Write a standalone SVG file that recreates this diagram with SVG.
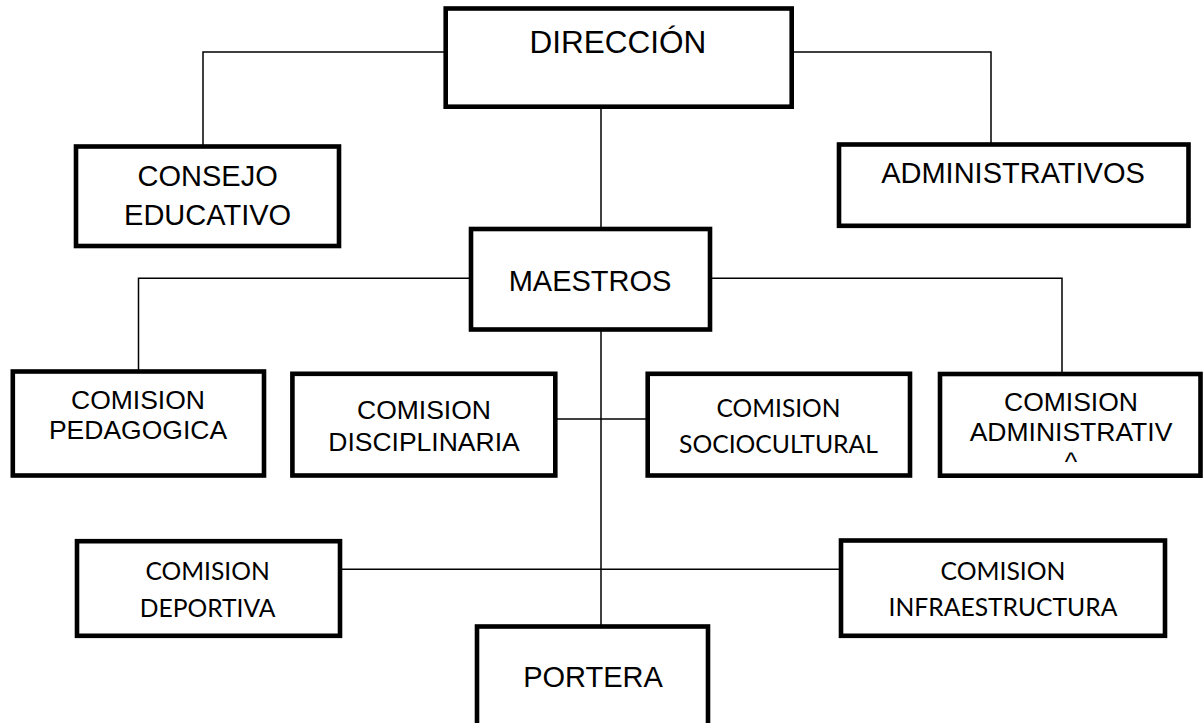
<svg xmlns="http://www.w3.org/2000/svg" width="1203" height="723" viewBox="0 0 1203 723">
<style>
.box{fill:#fff;stroke:#000;stroke-width:4.6}
.con{fill:none;stroke:#000;stroke-width:1.5}
.a{font-family:"Liberation Sans",Arial,sans-serif;fill:#000;text-anchor:middle}
.c{font-family:Lato,"Open Sans",sans-serif;fill:#000;text-anchor:middle;font-size:25.5px}
</style>
<rect width="1203" height="723" fill="#fff"/>
<g id="connectors">
<path class="con" d="M445.7 52H203V146.5"/>
<path class="con" d="M791.7 52H991V144.5"/>
<path class="con" d="M601 106.7V229"/>
<path class="con" d="M471 278.3H138.5V371.5"/>
<path class="con" d="M710 278.3H1062V374"/>
<path class="con" d="M601 329.5V626.5"/>
<path class="con" d="M555.3 419H647.7"/>
<path class="con" d="M340 569.3H841"/>
</g>
<g id="direccion">
<rect class="box" x="445.7" y="8.5" width="346" height="98.2"/>
<text class="a" x="618" y="53.3" font-size="31.5">DIRECCIÓN</text>
</g>
<g id="consejo">
<rect class="box" x="76" y="146.5" width="263" height="99.5"/>
<text class="a" x="207.6" y="185.7" font-size="29">CONSEJO</text>
<text class="a" x="207.6" y="225" font-size="29">EDUCATIVO</text>
</g>
<g id="administrativos">
<rect class="box" x="839" y="144.5" width="349.5" height="81.3"/>
<text class="a" x="1013" y="183.3" font-size="29">ADMINISTRATIVOS</text>
</g>
<g id="maestros">
<rect class="box" x="471" y="229" width="239" height="100.5"/>
<text class="a" x="590" y="291" font-size="29">MAESTROS</text>
</g>
<g id="pedagogica">
<rect class="box" x="12.8" y="371.5" width="251.2" height="104"/>
<text class="a" x="138" y="409" font-size="26.5">COMISION</text>
<text class="a" x="138" y="439" font-size="26.5">PEDAGOGICA</text>
</g>
<g id="disciplinaria">
<rect class="box" x="292.4" y="373.8" width="262.9" height="101.7"/>
<text class="a" x="424" y="419.3" font-size="26.5">COMISION</text>
<text class="a" x="424" y="451" font-size="26.5">DISCIPLINARIA</text>
</g>
<g id="sociocultural">
<rect class="box" x="647.7" y="373.8" width="262.3" height="101.7"/>
<text class="c" x="778.5" y="416.7" textLength="124" lengthAdjust="spacingAndGlyphs">COMISION</text>
<text class="c" x="778.5" y="453.3" textLength="199" lengthAdjust="spacingAndGlyphs">SOCIOCULTURAL</text>
</g>
<g id="administrativa">
<rect class="box" x="940" y="374" width="260.5" height="101.7"/>
<text class="a" x="1071" y="410.7" font-size="26.5">COMISION</text>
<text class="a" x="1071" y="441" font-size="26.5">ADMINISTRATIV</text>
<text class="a" x="1071" y="471" font-size="26.5">^</text>
</g>
<g id="deportiva">
<rect class="box" x="77" y="541.2" width="263" height="94.6"/>
<text class="c" x="207.6" y="580" textLength="124.4" lengthAdjust="spacingAndGlyphs">COMISION</text>
<text class="c" x="207.6" y="616.7" textLength="135.8" lengthAdjust="spacingAndGlyphs">DEPORTIVA</text>
</g>
<g id="infraestructura">
<rect class="box" x="841" y="540.5" width="324" height="95.3"/>
<text class="c" x="1003" y="580" textLength="125" lengthAdjust="spacingAndGlyphs">COMISION</text>
<text class="c" x="1003" y="616" textLength="228.8" lengthAdjust="spacingAndGlyphs">INFRAESTRUCTURA</text>
</g>
<g id="portera">
<rect class="box" x="477" y="626.5" width="231" height="110"/>
<text class="a" x="593" y="686.7" font-size="29">PORTERA</text>
</g>
</svg>
